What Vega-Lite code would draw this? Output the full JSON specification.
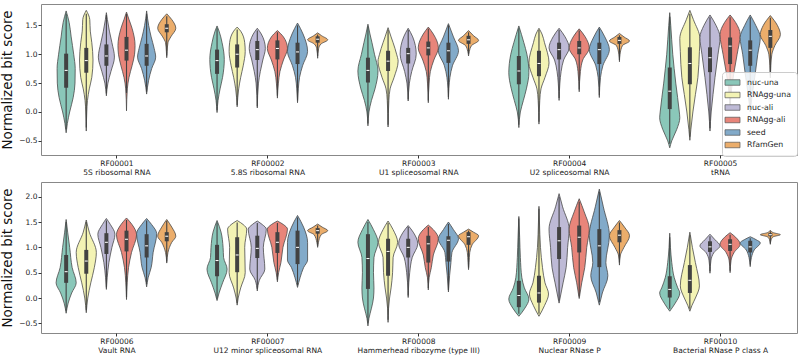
{
  "$schema": "https://vega.github.io/schema/vega-lite/v6.json",
  "autosize": {"type": "pad"},
  "padding": {"left": 0, "top": 3, "right": 2, "bottom": 2},
  "spacing": 27,
  "bounds": "flush",
  "config": {
    "font": "DejaVu Sans",
    "view": {"stroke": "#888888", "strokeWidth": 1},
    "axis": {
      "grid": false, "domain": false, "tickColor": "#333333", "tickSize": 3,
      "labelColor": "#222222", "labelFontSize": 7.5, "labelFont": "DejaVu Sans",
      "titleFont": "DejaVu Sans", "titleFontWeight": "normal", "titleFontSize": 13.5, "titleColor": "#111111"
    },
    "axisX": {
      "labelAngle": 0, "labelPadding": 1, "labelLineHeight": 9.5,
      "labelExpr": "[['RF00001','5S ribosomal RNA'],['RF00002','5.8S ribosomal RNA'],['RF00003','U1 spliceosomal RNA'],['RF00004','U2 spliceosomal RNA'],['RF00005','tRNA'],['RF00006','Vault RNA'],['RF00007','U12 minor spliceosomal RNA'],['RF00008','Hammerhead ribozyme (type III)'],['RF00009','Nuclear RNase P'],['RF00010','Bacterial RNase P class A']][round(datum.value)]"
    },
    "axisY": {"labelPadding": 1, "titlePadding": 4, "format": ".1f"},
    "legend": {
      "orient": "none", "legendX": 681, "legendY": 68,
      "fillColor": "rgba(255,255,255,0.85)", "strokeColor": "#cccccc", "cornerRadius": 3, "padding": 6,
      "labelFontSize": 7.8, "labelColor": "#222222", "labelFont": "DejaVu Sans",
      "symbolType": "M-1.875,-0.69H1.875V0.69H-1.875Z", "symbolSize": 64,
      "symbolStrokeColor": "#555555", "symbolStrokeWidth": 0.7, "symbolOpacity": 1,
      "labelOffset": 10, "rowPadding": 3.5
    }
  },
  "datasets": {
    "top": [
      {"f":"RF00001","m":"nuc-una","v":[1.75,1.55,1.3,1.0,0.75,0.5,0.25,0.0,-0.2,-0.36],"w":[0,0.3,0.5,0.75,0.9,0.88,0.7,0.35,0.12,0],"lo":-0.3,"q1":0.42,"md":0.72,"q3":1.01,"hi":1.7},
      {"f":"RF00001","m":"RNAgg-una","v":[1.76,1.6,1.4,1.2,0.9,0.6,0.4,0.2,0.0,-0.33],"w":[0,0.35,0.4,0.55,0.67,0.55,0.3,0.12,0.05,0],"lo":-0.27,"q1":0.68,"md":0.89,"q3":1.11,"hi":1.7},
      {"f":"RF00001","m":"nuc-ali","v":[1.72,1.6,1.4,1.2,0.95,0.7,0.5,0.28],"w":[0,0.1,0.3,0.55,0.8,0.45,0.15,0],"lo":0.32,"q1":0.8,"md":0.97,"q3":1.17,"hi":1.68},
      {"f":"RF00001","m":"RNAgg-ali","v":[1.73,1.6,1.45,1.15,1.0,0.8,0.6,0.4,0.02],"w":[0,0.25,0.55,0.85,0.8,0.55,0.25,0.08,0],"lo":0.33,"q1":0.89,"md":1.07,"q3":1.3,"hi":1.7},
      {"f":"RF00001","m":"seed","v":[1.75,1.5,1.3,1.1,0.95,0.75,0.55,0.31],"w":[0,0.2,0.45,0.75,0.9,0.5,0.2,0],"lo":0.35,"q1":0.8,"md":0.97,"q3":1.18,"hi":1.7},
      {"f":"RF00001","m":"RfamGen","v":[1.7,1.6,1.45,1.3,1.2,1.05,0.94],"w":[0,0.5,0.9,0.4,0.12,0.04,0],"lo":0.98,"q1":1.38,"md":1.45,"q3":1.52,"hi":1.66},

      {"f":"RF00002","m":"nuc-una","v":[1.49,1.4,1.2,0.91,0.6,0.4,0.2,-0.01],"w":[0,0.2,0.5,0.72,0.55,0.3,0.1,0],"lo":0.03,"q1":0.66,"md":0.89,"q3":1.08,"hi":1.45},
      {"f":"RF00002","m":"RNAgg-una","v":[1.47,1.4,1.2,1.05,0.8,0.6,0.4,0.09],"w":[0,0.35,0.75,0.8,0.6,0.35,0.15,0],"lo":0.12,"q1":0.77,"md":1.0,"q3":1.17,"hi":1.43},
      {"f":"RF00002","m":"nuc-ali","v":[1.45,1.35,1.1,0.9,0.7,0.5,0.07],"w":[0,0.4,0.8,0.55,0.3,0.12,0],"lo":0.1,"q1":0.9,"md":1.08,"q3":1.23,"hi":1.41},
      {"f":"RF00002","m":"RNAgg-ali","v":[1.41,1.3,1.1,0.9,0.7,0.5,0.24],"w":[0,0.6,1.0,0.6,0.25,0.1,0],"lo":0.28,"q1":0.91,"md":1.1,"q3":1.24,"hi":1.38},
      {"f":"RF00002","m":"seed","v":[1.54,1.35,1.05,0.8,0.6,0.4,0.16],"w":[0,0.55,1.0,0.5,0.2,0.08,0],"lo":0.2,"q1":0.83,"md":1.04,"q3":1.2,"hi":1.5},
      {"f":"RF00002","m":"RfamGen","v":[1.37,1.32,1.25,1.18,1.1,0.93],"w":[0,0.4,1.0,0.35,0.1,0],"lo":0.97,"q1":1.2,"md":1.26,"q3":1.31,"hi":1.34},

      {"f":"RF00003","m":"nuc-una","v":[1.52,1.35,1.2,1.0,0.71,0.4,0.2,0.0,-0.24],"w":[0,0.2,0.4,0.65,1.0,0.7,0.35,0.1,0],"lo":-0.2,"q1":0.51,"md":0.72,"q3":0.94,"hi":1.48},
      {"f":"RF00003","m":"RNAgg-una","v":[1.46,1.3,1.2,1.0,0.88,0.6,0.4,0.2,-0.26],"w":[0,0.3,0.5,0.85,1.0,0.6,0.2,0.08,0],"lo":-0.22,"q1":0.71,"md":0.88,"q3":1.06,"hi":1.42},
      {"f":"RF00003","m":"nuc-ali","v":[1.45,1.3,1.0,0.7,0.5,0.19],"w":[0,0.45,0.8,0.35,0.12,0],"lo":0.22,"q1":0.84,"md":1.01,"q3":1.11,"hi":1.42},
      {"f":"RF00003","m":"RNAgg-ali","v":[1.47,1.35,1.11,0.9,0.7,0.5,0.16],"w":[0,0.5,1.0,0.55,0.2,0.08,0],"lo":0.2,"q1":0.98,"md":1.11,"q3":1.22,"hi":1.44},
      {"f":"RF00003","m":"seed","v":[1.53,1.3,1.06,0.8,0.6,0.22],"w":[0,0.5,1.0,0.4,0.15,0],"lo":0.26,"q1":0.85,"md":1.06,"q3":1.2,"hi":1.5},
      {"f":"RF00003","m":"RfamGen","v":[1.41,1.32,1.24,1.15,1.05,0.97],"w":[0,0.5,1.0,0.3,0.08,0],"lo":1.0,"q1":1.18,"md":1.25,"q3":1.32,"hi":1.38},

      {"f":"RF00004","m":"nuc-una","v":[1.49,1.2,1.0,0.68,0.4,0.2,0.0,-0.27],"w":[0,0.5,0.8,1.0,0.75,0.45,0.15,0],"lo":-0.22,"q1":0.48,"md":0.71,"q3":0.97,"hi":1.45},
      {"f":"RF00004","m":"RNAgg-una","v":[1.45,1.35,1.2,0.85,0.6,0.4,0.2,-0.21],"w":[0,0.3,0.55,1.0,0.6,0.2,0.08,0],"lo":-0.17,"q1":0.62,"md":0.84,"q3":1.06,"hi":1.42},
      {"f":"RF00004","m":"nuc-ali","v":[1.45,1.3,1.11,0.9,0.7,0.5,0.2],"w":[0,0.6,1.0,0.45,0.2,0.08,0],"lo":0.24,"q1":0.91,"md":1.08,"q3":1.2,"hi":1.42},
      {"f":"RF00004","m":"RNAgg-ali","v":[1.44,1.3,1.11,0.9,0.7,0.35],"w":[0,0.6,1.0,0.35,0.12,0],"lo":0.39,"q1":1.0,"md":1.11,"q3":1.23,"hi":1.41},
      {"f":"RF00004","m":"seed","v":[1.47,1.3,1.08,0.8,0.6,0.25],"w":[0,0.55,1.0,0.35,0.12,0],"lo":0.29,"q1":0.83,"md":1.08,"q3":1.2,"hi":1.44},
      {"f":"RF00004","m":"RfamGen","v":[1.36,1.3,1.23,1.15,1.0,0.87],"w":[0,0.45,1.0,0.3,0.06,0],"lo":0.9,"q1":1.18,"md":1.24,"q3":1.3,"hi":1.33},

      {"f":"RF00005","m":"nuc-una","v":[1.72,1.5,1.0,0.5,0.0,-0.1,-0.3,-0.5,-0.62],"w":[0,0.1,0.3,0.6,0.95,1.0,0.7,0.2,0],"lo":-0.55,"q1":0.05,"md":0.36,"q3":0.77,"hi":1.65},
      {"f":"RF00005","m":"RNAgg-una","v":[1.76,1.6,1.27,1.05,0.6,0.3,0.0,-0.3,-0.49],"w":[0,0.35,1.0,0.95,0.8,0.55,0.3,0.1,0],"lo":-0.43,"q1":0.48,"md":0.84,"q3":1.12,"hi":1.7},
      {"f":"RF00005","m":"nuc-ali","v":[1.68,1.5,1.29,1.0,0.6,0.3,0.0,-0.33],"w":[0,0.6,1.0,0.8,0.5,0.3,0.12,0],"lo":-0.28,"q1":0.69,"md":0.94,"q3":1.12,"hi":1.64},
      {"f":"RF00005","m":"RNAgg-ali","v":[1.68,1.55,1.34,1.0,0.7,0.4,0.05],"w":[0,0.55,1.0,0.7,0.4,0.15,0],"lo":0.1,"q1":0.83,"md":1.14,"q3":1.29,"hi":1.64},
      {"f":"RF00005","m":"seed","v":[1.68,1.5,1.29,1.0,0.6,0.3,0.0],"w":[0,0.55,1.0,0.75,0.45,0.2,0],"lo":0.05,"q1":0.8,"md":1.07,"q3":1.24,"hi":1.64},
      {"f":"RF00005","m":"RfamGen","v":[1.67,1.5,1.34,1.15,1.0,0.8,0.59],"w":[0,0.7,1.0,0.45,0.15,0.05,0],"lo":0.63,"q1":1.11,"md":1.31,"q3":1.42,"hi":1.63}
    ],
    "bottom": [
      {"f":"RF00006","m":"nuc-una","v":[1.55,1.3,1.0,0.6,0.3,0.1,-0.1,-0.3],"w":[0,0.15,0.35,0.6,1.0,0.55,0.2,0],"lo":-0.25,"q1":0.3,"md":0.52,"q3":0.85,"hi":1.5},
      {"f":"RF00006","m":"RNAgg-una","v":[1.54,1.3,0.9,0.6,0.3,0.0,-0.29],"w":[0,0.3,1.0,0.8,0.45,0.15,0],"lo":-0.24,"q1":0.48,"md":0.73,"q3":0.95,"hi":1.5},
      {"f":"RF00006","m":"nuc-ali","v":[1.57,1.45,1.26,1.0,0.7,0.4,0.17],"w":[0,0.4,0.85,0.55,0.25,0.08,0],"lo":0.21,"q1":0.87,"md":1.1,"q3":1.28,"hi":1.53},
      {"f":"RF00006","m":"RNAgg-ali","v":[1.58,1.45,1.25,0.9,0.6,0.3,-0.03],"w":[0,0.55,1.0,0.5,0.2,0.07,0],"lo":0.02,"q1":0.92,"md":1.16,"q3":1.33,"hi":1.54},
      {"f":"RF00006","m":"seed","v":[1.57,1.45,1.27,0.9,0.6,0.4,0.22],"w":[0,0.5,1.0,0.65,0.45,0.15,0],"lo":0.27,"q1":0.8,"md":1.03,"q3":1.26,"hi":1.53},
      {"f":"RF00006","m":"RfamGen","v":[1.55,1.4,1.22,1.1,0.9,0.69],"w":[0,0.5,0.9,0.5,0.12,0],"lo":0.72,"q1":1.12,"md":1.22,"q3":1.3,"hi":1.52},

      {"f":"RF00007","m":"nuc-una","v":[1.53,1.3,1.0,0.8,0.57,0.3,0.1,-0.05],"w":[0,0.4,0.6,0.65,1.0,0.55,0.2,0],"lo":-0.01,"q1":0.43,"md":0.74,"q3":1.05,"hi":1.49},
      {"f":"RF00007","m":"RNAgg-una","v":[1.53,1.45,1.36,1.0,0.5,0.2,0.0,-0.14],"w":[0,0.6,0.95,0.75,0.8,0.35,0.1,0],"lo":-0.1,"q1":0.51,"md":0.85,"q3":1.2,"hi":1.49},
      {"f":"RF00007","m":"nuc-ali","v":[1.52,1.45,1.36,1.0,0.57,0.35,0.14],"w":[0,0.5,0.9,0.6,0.75,0.2,0],"lo":0.18,"q1":0.79,"md":0.98,"q3":1.23,"hi":1.48},
      {"f":"RF00007","m":"RNAgg-ali","v":[1.52,1.45,1.36,1.0,0.7,0.5,0.32],"w":[0,0.6,1.0,0.55,0.35,0.12,0],"lo":0.36,"q1":0.89,"md":1.1,"q3":1.3,"hi":1.48},
      {"f":"RF00007","m":"seed","v":[1.63,1.4,1.1,0.75,0.6,0.4,0.21],"w":[0,0.6,1.0,1.0,0.6,0.25,0],"lo":0.25,"q1":0.67,"md":1.0,"q3":1.33,"hi":1.59},
      {"f":"RF00007","m":"RfamGen","v":[1.46,1.4,1.33,1.25,1.1,1.0],"w":[0,0.45,1.0,0.35,0.08,0],"lo":1.03,"q1":1.27,"md":1.33,"q3":1.38,"hi":1.43},

      {"f":"RF00008","m":"nuc-una","v":[1.55,1.35,1.1,0.8,0.5,0.2,0.0,-0.2,-0.4,-0.55],"w":[0,0.55,1.0,0.6,0.55,0.6,0.55,0.35,0.1,0],"lo":-0.5,"q1":0.18,"md":0.78,"q3":1.26,"hi":1.5},
      {"f":"RF00008","m":"RNAgg-una","v":[1.52,1.35,1.1,0.8,0.5,0.2,0.0,-0.2,-0.48],"w":[0,0.5,0.95,0.5,0.45,0.3,0.15,0.05,0],"lo":-0.43,"q1":0.44,"md":0.92,"q3":1.17,"hi":1.48},
      {"f":"RF00008","m":"nuc-ali","v":[1.43,1.3,1.07,0.8,0.5,0.3,0.01],"w":[0,0.5,0.95,0.4,0.15,0.06,0],"lo":0.05,"q1":0.8,"md":1.0,"q3":1.17,"hi":1.4},
      {"f":"RF00008","m":"RNAgg-ali","v":[1.44,1.35,1.17,0.85,0.6,0.4,0.16],"w":[0,0.5,1.0,0.5,0.3,0.08,0],"lo":0.2,"q1":0.7,"md":1.07,"q3":1.23,"hi":1.4},
      {"f":"RF00008","m":"seed","v":[1.5,1.35,1.17,0.9,0.7,0.45,0.12],"w":[0,0.5,1.0,0.35,0.25,0.12,0],"lo":0.16,"q1":0.72,"md":1.14,"q3":1.22,"hi":1.46},
      {"f":"RF00008","m":"RfamGen","v":[1.36,1.3,1.23,1.05,0.9,0.7,0.56],"w":[0,0.5,1.0,0.35,0.12,0.05,0],"lo":0.6,"q1":1.05,"md":1.21,"q3":1.3,"hi":1.33},

      {"f":"RF00009","m":"nuc-una","v":[1.61,1.2,0.8,0.4,0.2,-0.02,-0.2,-0.36],"w":[0,0.08,0.15,0.3,0.55,1.0,0.6,0],"lo":-0.31,"q1":-0.18,"md":0.05,"q3":0.34,"hi":1.57},
      {"f":"RF00009","m":"RNAgg-una","v":[1.81,1.5,1.0,0.6,0.3,0.08,-0.15,-0.36],"w":[0,0.05,0.15,0.35,0.6,0.95,0.55,0],"lo":-0.31,"q1":-0.09,"md":0.1,"q3":0.44,"hi":1.76},
      {"f":"RF00009","m":"nuc-ali","v":[2.06,1.8,1.36,1.0,0.6,0.3,0.0,-0.1],"w":[0,0.35,1.0,0.85,0.7,0.4,0.1,0],"lo":-0.05,"q1":0.77,"md":1.13,"q3":1.4,"hi":2.0},
      {"f":"RF00009","m":"RNAgg-ali","v":[1.96,1.7,1.36,1.0,0.6,0.3,-0.01],"w":[0,0.5,1.0,0.75,0.55,0.25,0],"lo":0.03,"q1":0.9,"md":1.2,"q3":1.43,"hi":1.9},
      {"f":"RF00009","m":"seed","v":[2.15,1.8,1.23,0.7,0.44,0.1,-0.14],"w":[0,0.4,1.0,0.65,0.85,0.3,0],"lo":-0.08,"q1":0.61,"md":1.03,"q3":1.36,"hi":2.1},
      {"f":"RF00009","m":"RfamGen","v":[1.53,1.4,1.23,1.0,0.85,0.65],"w":[0,0.5,1.0,0.45,0.1,0],"lo":0.7,"q1":1.1,"md":1.24,"q3":1.34,"hi":1.49},

      {"f":"RF00010","m":"nuc-una","v":[1.28,1.0,0.7,0.4,0.2,0.1,-0.1,-0.26],"w":[0,0.07,0.2,0.45,0.8,1.0,0.55,0],"lo":-0.21,"q1":0.01,"md":0.17,"q3":0.43,"hi":1.2},
      {"f":"RF00010","m":"RNAgg-una","v":[1.3,1.0,0.7,0.24,0.0,-0.15,-0.26],"w":[0,0.25,0.55,0.95,0.55,0.2,0],"lo":-0.21,"q1":0.1,"md":0.35,"q3":0.65,"hi":1.24},
      {"f":"RF00010","m":"nuc-ali","v":[1.26,1.15,1.03,0.9,0.75,0.49],"w":[0,0.5,1.0,0.4,0.1,0],"lo":0.53,"q1":0.91,"md":1.01,"q3":1.12,"hi":1.22},
      {"f":"RF00010","m":"RNAgg-ali","v":[1.29,1.2,1.06,0.9,0.75,0.5],"w":[0,0.55,1.0,0.4,0.1,0],"lo":0.54,"q1":0.93,"md":1.06,"q3":1.16,"hi":1.25},
      {"f":"RF00010","m":"seed","v":[1.21,1.15,1.09,0.95,0.8,0.62],"w":[0,0.6,1.0,0.4,0.12,0],"lo":0.66,"q1":0.9,"md":1.01,"q3":1.13,"hi":1.18},
      {"f":"RF00010","m":"RfamGen","v":[1.34,1.29,1.25,1.21,1.15,1.06],"w":[0,0.3,1.0,0.3,0.08,0],"lo":1.08,"q1":1.22,"md":1.25,"q3":1.28,"hi":1.32}
    ]
  },
  "vconcat": [
    {
      "width": 756, "height": 151,
      "data": {"name": "top"},
      "transform": [
        {"calculate": "indexof(['RF00001','RF00002','RF00003','RF00004','RF00005','RF00006','RF00007','RF00008','RF00009','RF00010'], datum.f)", "as": "fi"},
        {"calculate": "indexof(['nuc-una','RNAgg-una','nuc-ali','RNAgg-ali','seed','RfamGen'], datum.m)", "as": "mi"},
        {"calculate": "datum.fi + (datum.mi - 2.5) * 0.8 / 6", "as": "xc"}
      ],
      "layer": [
        {
          "transform": [
            {"flatten": ["v", "w"]},
            {"calculate": "datum.xc - datum.w * 0.4 / 6", "as": "xl"},
            {"calculate": "datum.xc + datum.w * 0.4 / 6", "as": "xr"}
          ],
          "mark": {"type": "area", "orient": "horizontal", "interpolate": "monotone", "stroke": "#4a4a4a", "strokeWidth": 0.8, "opacity": 1, "fillOpacity": 1},
          "encoding": {
            "y": {"field": "v", "type": "quantitative", "scale": {"domain": [-0.745, 1.87], "nice": false, "zero": false}, "axis": {"values": [-0.5, 0, 0.5, 1, 1.5]}, "title": "Normalized bit score"},
            "x": {"field": "xl", "type": "quantitative", "stack": null, "scale": {"domain": [-0.5, 4.51], "nice": false, "zero": false}, "axis": {"values": [0, 1, 2, 3, 4]}, "title": null},
            "x2": {"field": "xr"},
            "color": {"field": "m", "type": "nominal", "title": null,
              "scale": {"domain": ["nuc-una", "RNAgg-una", "nuc-ali", "RNAgg-ali", "seed", "RfamGen"], "range": ["#8ac7b9", "#f3f3b4", "#bebad6", "#e8857a", "#82aac9", "#ebad6b"]}},
            "detail": {"field": "f"}
          }
        },
        {
          "mark": {"type": "rule", "color": "#424242", "strokeWidth": 1.1},
          "encoding": {
            "x": {"field": "xc", "type": "quantitative", "scale": {"domain": [-0.5, 4.51], "nice": false, "zero": false}, "axis": {"values": [0, 1, 2, 3, 4]}, "title": null},
            "y": {"field": "lo", "type": "quantitative", "scale": {"domain": [-0.745, 1.87], "nice": false, "zero": false}, "axis": {"values": [-0.5, 0, 0.5, 1, 1.5]}, "title": "Normalized bit score"},
            "y2": {"field": "hi"}
          }
        },
        {
          "mark": {"type": "rule", "color": "#424242", "strokeWidth": 4},
          "encoding": {
            "x": {"field": "xc", "type": "quantitative", "scale": {"domain": [-0.5, 4.51], "nice": false, "zero": false}, "axis": {"values": [0, 1, 2, 3, 4]}, "title": null},
            "y": {"field": "q1", "type": "quantitative", "scale": {"domain": [-0.745, 1.87], "nice": false, "zero": false}, "axis": {"values": [-0.5, 0, 0.5, 1, 1.5]}, "title": "Normalized bit score"},
            "y2": {"field": "q3"}
          }
        },
        {
          "mark": {"type": "point", "filled": true, "color": "#ffffff", "opacity": 1, "size": 9, "shape": "M-1,-0.35H1V0.35H-1Z"},
          "encoding": {
            "x": {"field": "xc", "type": "quantitative", "scale": {"domain": [-0.5, 4.51], "nice": false, "zero": false}, "axis": {"values": [0, 1, 2, 3, 4]}, "title": null},
            "y": {"field": "md", "type": "quantitative", "scale": {"domain": [-0.745, 1.87], "nice": false, "zero": false}, "axis": {"values": [-0.5, 0, 0.5, 1, 1.5]}, "title": "Normalized bit score"}
          }
        }
      ]
    },
    {
      "width": 756, "height": 151,
      "data": {"name": "bottom"},
      "transform": [
        {"calculate": "indexof(['RF00001','RF00002','RF00003','RF00004','RF00005','RF00006','RF00007','RF00008','RF00009','RF00010'], datum.f)", "as": "fi"},
        {"calculate": "indexof(['nuc-una','RNAgg-una','nuc-ali','RNAgg-ali','seed','RfamGen'], datum.m)", "as": "mi"},
        {"calculate": "datum.fi + (datum.mi - 2.5) * 0.8 / 6", "as": "xc"}
      ],
      "layer": [
        {
          "transform": [
            {"flatten": ["v", "w"]},
            {"calculate": "datum.xc - datum.w * 0.4 / 6", "as": "xl"},
            {"calculate": "datum.xc + datum.w * 0.4 / 6", "as": "xr"}
          ],
          "mark": {"type": "area", "orient": "horizontal", "interpolate": "monotone", "stroke": "#4a4a4a", "strokeWidth": 0.8, "opacity": 1, "fillOpacity": 1},
          "encoding": {
            "y": {"field": "v", "type": "quantitative", "scale": {"domain": [-0.69, 2.29], "nice": false, "zero": false}, "axis": {"values": [-0.5, 0, 0.5, 1, 1.5, 2]}, "title": "Normalized bit score"},
            "x": {"field": "xl", "type": "quantitative", "stack": null, "scale": {"domain": [4.5, 9.51], "nice": false, "zero": false}, "axis": {"values": [5, 6, 7, 8, 9]}, "title": null},
            "x2": {"field": "xr"},
            "color": {"field": "m", "type": "nominal", "title": null,
              "scale": {"domain": ["nuc-una", "RNAgg-una", "nuc-ali", "RNAgg-ali", "seed", "RfamGen"], "range": ["#8ac7b9", "#f3f3b4", "#bebad6", "#e8857a", "#82aac9", "#ebad6b"]}},
            "detail": {"field": "f"}
          }
        },
        {
          "mark": {"type": "rule", "color": "#424242", "strokeWidth": 1.1},
          "encoding": {
            "x": {"field": "xc", "type": "quantitative", "scale": {"domain": [4.5, 9.51], "nice": false, "zero": false}, "axis": {"values": [5, 6, 7, 8, 9]}, "title": null},
            "y": {"field": "lo", "type": "quantitative", "scale": {"domain": [-0.69, 2.29], "nice": false, "zero": false}, "axis": {"values": [-0.5, 0, 0.5, 1, 1.5, 2]}, "title": "Normalized bit score"},
            "y2": {"field": "hi"}
          }
        },
        {
          "mark": {"type": "rule", "color": "#424242", "strokeWidth": 4},
          "encoding": {
            "x": {"field": "xc", "type": "quantitative", "scale": {"domain": [4.5, 9.51], "nice": false, "zero": false}, "axis": {"values": [5, 6, 7, 8, 9]}, "title": null},
            "y": {"field": "q1", "type": "quantitative", "scale": {"domain": [-0.69, 2.29], "nice": false, "zero": false}, "axis": {"values": [-0.5, 0, 0.5, 1, 1.5, 2]}, "title": "Normalized bit score"},
            "y2": {"field": "q3"}
          }
        },
        {
          "mark": {"type": "point", "filled": true, "color": "#ffffff", "opacity": 1, "size": 9, "shape": "M-1,-0.35H1V0.35H-1Z"},
          "encoding": {
            "x": {"field": "xc", "type": "quantitative", "scale": {"domain": [4.5, 9.51], "nice": false, "zero": false}, "axis": {"values": [5, 6, 7, 8, 9]}, "title": null},
            "y": {"field": "md", "type": "quantitative", "scale": {"domain": [-0.69, 2.29], "nice": false, "zero": false}, "axis": {"values": [-0.5, 0, 0.5, 1, 1.5, 2]}, "title": "Normalized bit score"}
          }
        }
      ]
    }
  ]
}
